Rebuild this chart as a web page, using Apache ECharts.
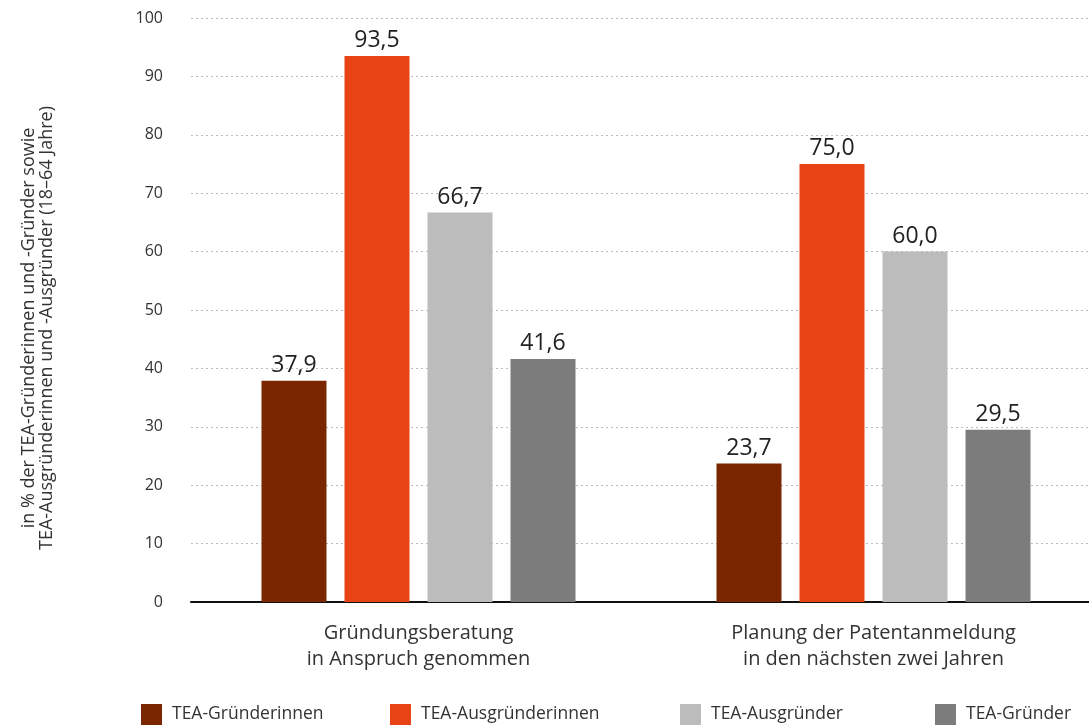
<!DOCTYPE html>
<html>
<head>
<meta charset="utf-8">
<script src="https://cdn.jsdelivr.net/npm/echarts@6/dist/echarts.min.js"></script>
<style>
  html, body { margin: 0; padding: 0; background: #fff; }
  #chart { width: 1089px; height: 725px; }
</style>
</head>
<body>
<div id="chart"></div>
<script>
// Kategorien und Werte (in %)
const categories = [
  'Gründungsberatung\nin Anspruch genommen',
  'Planung der Patentanmeldung\nin den nächsten zwei Jahren'
];
const seriesNames = ['TEA-Gründerinnen', 'TEA-Ausgründerinnen', 'TEA-Ausgründer', 'TEA-Gründer'];
const gruenderinnen = [37.9, 23.7];
const ausgruenderinnen = [93.5, 75.0];
const ausgruender = [66.7, 60.0];
const gruender = [41.6, 29.5];
const seriesColors = ['#7A2600', '#E84314', '#BCBCBC', '#7C7C7C'];
const yAxisTitle = 'in % der TEA-Gründerinnen und -Gründer sowie\nTEA-Ausgründerinnen und -Ausgründer (18–64 Jahre)';

const FONT = '"Open Sans", sans-serif';
const values = [gruenderinnen, ausgruenderinnen, ausgruender, gruender];

const chart = echarts.init(document.getElementById('chart'), null, { renderer: 'canvas' });

const series = seriesNames.map((name, i) => ({
  name: name,
  type: 'bar',
  data: values[i],
  barWidth: 65,
  barGap: '27.7%',
  itemStyle: { color: seriesColors[i] },
  label: {
    show: true,
    position: 'top',
    distance: 4,
    color: '#222',
    fontFamily: FONT,
    fontSize: 23,
    formatter: p => p.value.toFixed(1).replace('.', ',')
  }
}));

const legendLefts = [141, 390, 680, 935];
const legends = seriesNames.map((name, i) => ({
  data: [name],
  left: legendLefts[i],
  top: 704,
  padding: 0,
  itemWidth: 21,
  itemHeight: 21,
  itemGap: 0,
  icon: 'rect',
  selectedMode: false,
  textStyle: { fontFamily: FONT, fontSize: 17.5, color: '#333', padding: [0, 0, 0, 5] }
}));

chart.setOption({
  animation: false,
  grid: { left: 191, top: 18, width: 910, height: 584, outerBoundsMode: 'none' },
  legend: legends,
  // rotated title of the value axis
  graphic: [{
    type: 'text',
    x: 38,
    y: 328,
    rotation: Math.PI / 2,
    style: {
      text: yAxisTitle,
      fontFamily: FONT,
      fontSize: 18,
      lineHeight: 18,
      fill: '#333',
      align: 'center',
      verticalAlign: 'middle'
    }
  }],
  xAxis: {
    type: 'category',
    data: categories,
    axisLine: { lineStyle: { color: '#111', width: 2 } },
    axisTick: { show: false },
    axisLabel: {
      margin: 18,
      fontFamily: FONT,
      fontSize: 20,
      lineHeight: 26,
      color: '#333'
    }
  },
  yAxis: {
    type: 'value',
    min: 0,
    max: 100,
    interval: 10,
    axisLine: { show: false },
    axisTick: { show: false },
    axisLabel: { margin: 28, fontFamily: FONT, fontSize: 16, color: '#333' },
    splitLine: { lineStyle: { color: '#BBB', type: [2, 3], width: 1 } }
  },
  series: series
});
</script>
</body>
</html>
